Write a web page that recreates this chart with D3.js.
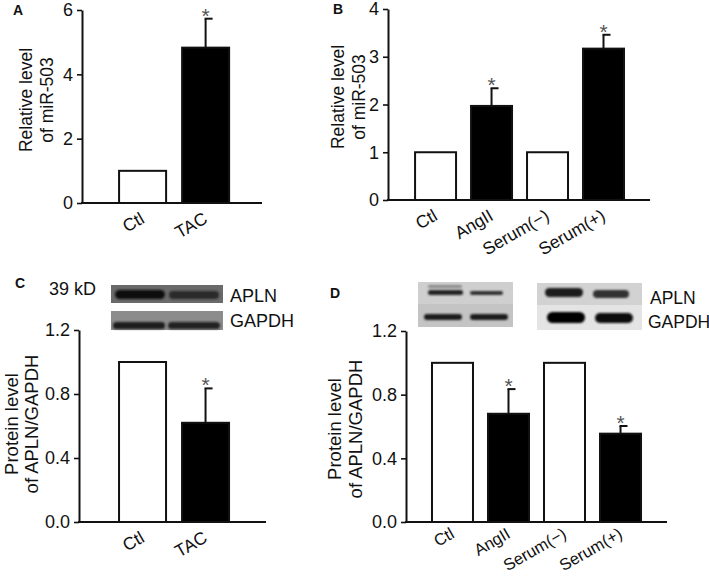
<!DOCTYPE html>
<html>
<head>
<meta charset="utf-8">
<script src="https://cdn.jsdelivr.net/npm/d3@7"></script>
<style>
  body { margin: 0; background: #fff; }
  text { font-family: Arial, "Liberation Sans", Helvetica, sans-serif; fill: #111; }
</style>
</head>
<body>
<script>
// values
var catsTwo = ["Ctl", "TAC"];
var catsFour = ["Ctl", "AngII", "Serum(\u2212)", "Serum(+)"];
var fillsTwo = ["white", "black"];
var fillsFour = ["white", "black", "white", "black"];

var miRTac = [1, 4.83];
var miRTacErr = [0, 0.9];
var miRCell = [1, 1.97, 1, 3.17];
var miRCellErr = [0, 0.37, 0, 0.29];
var aplnTac = [1, 0.62];
var aplnTacErr = [0, 0.215];
var aplnCell = [1, 0.68, 1, 0.555];
var aplnCellErr = [0, 0.155, 0, 0.048];
var sigTwo = [false, true];
var sigFour = [false, true, false, true];

var ticksMiRA = [0, 2, 4, 6];
var ticksMiRB = [0, 1, 2, 3, 4];
var ticksProt = [0, 0.4, 0.8, 1.2];

var width = 709, height = 578;

var svg = d3.select("body").append("svg")
    .attr("width", width)
    .attr("height", height);

var defs = svg.append("defs");
defs.append("filter").attr("id", "blur").attr("x", "-20%").attr("y", "-50%")
    .attr("width", "140%").attr("height", "200%")
    .append("feGaussianBlur").attr("stdDeviation", 1.3);

function panel(p) {
  var g = svg.append("g");

  var y = d3.scaleLinear().domain(p.domain).range([p.y0, p.yTop]);
  var x = d3.scaleBand().domain(p.cats).range([p.x0, p.x1])
      .paddingInner(p.pi).paddingOuter(p.po).align(p.align);

  var yAxis = g.append("g")
      .attr("transform", "translate(" + p.x0 + ",0)")
      .call(d3.axisLeft(y).tickValues(p.ticks).tickSize(5).tickSizeOuter(0)
        .tickPadding(4).tickFormat(p.fmt));
  yAxis.select(".domain").attr("stroke-width", 2).attr("stroke", "#111");
  yAxis.selectAll(".tick line").attr("stroke-width", 1.6).attr("stroke", "#111");
  yAxis.selectAll(".tick text").attr("font-size", 18).attr("fill", "#111")
      .style("font-family", "Arial, 'Liberation Sans', sans-serif");

  // bars
  g.selectAll(".bar").data(p.values).enter().append("rect")
      .attr("x", function(d, i) { return x(p.cats[i]); })
      .attr("y", function(d) { return y(d); })
      .attr("width", x.bandwidth())
      .attr("height", function(d) { return p.y0 - y(d); })
      .attr("fill", function(d, i) { return p.fills[i]; })
      .attr("stroke", "#111")
      .attr("stroke-width", 2);

  // error bars (upper half only)
  p.values.forEach(function(v, i) {
    var e = p.errs[i];
    if (!e) return;
    var cx = x(p.cats[i]) + x.bandwidth() / 2;
    g.append("line").attr("x1", cx).attr("x2", cx)
        .attr("y1", y(v)).attr("y2", y(v + e))
        .attr("stroke", "#111").attr("stroke-width", 2);
    g.append("line").attr("x1", cx - 1).attr("x2", cx + 7)
        .attr("y1", y(v + e)).attr("y2", y(v + e))
        .attr("stroke", "#111").attr("stroke-width", 2);
    if (p.sig[i]) {
      g.append("text").attr("x", cx).attr("y", y(v + e) + 4)
          .attr("text-anchor", "middle").attr("font-size", 21)
          .style("fill", "#555").text("*");
    }
  });

  // x axis line
  g.append("line").attr("x1", p.x0 - 1).attr("x2", p.x1)
      .attr("y1", p.y0).attr("y2", p.y0)
      .attr("stroke", "#111").attr("stroke-width", 2);

  // rotated category labels
  g.selectAll(".xl").data(p.cats).enter().append("text")
      .attr("transform", function(d) {
        var cx = x(d) + x.bandwidth() / 2;
        return "translate(" + (cx + 3) + "," + (p.y0 + p.labDy) + ") rotate(-30)";
      })
      .attr("text-anchor", "end")
      .attr("font-size", p.labSize)
      .text(function(d) { return d; });

  // y title, two lines
  p.ylab.forEach(function(t, k) {
    g.append("text")
        .attr("transform", "translate(" + p.ylabX[k] + "," + p.ylabY + ") rotate(-90)")
        .attr("text-anchor", "middle")
        .attr("font-size", p.ylabSize)
        .text(t);
  });

  g.append("text").attr("x", p.letterX).attr("y", p.letterY)
      .attr("font-size", 14).attr("font-weight", "bold").text(p.letter);
}

panel({
  letter: "A", letterX: 13, letterY: 15,
  cats: catsTwo, values: miRTac, errs: miRTacErr, fills: fillsTwo, sig: sigTwo,
  domain: [0, 6], ticks: ticksMiRA, fmt: d3.format("d"),
  x0: 82, x1: 262, y0: 203, yTop: 10, pi: 0.254, po: 0.555, align: 0.53,
  labDy: 19, labSize: 17.5,
  ylab: ["Relative level", "of miR-503"], ylabX: [32, 53], ylabY: 100, ylabSize: 17.5
});

panel({
  letter: "B", letterX: 333, letterY: 14,
  cats: catsFour, values: miRCell, errs: miRCellErr, fills: fillsFour, sig: sigFour,
  domain: [0, 4], ticks: ticksMiRB, fmt: d3.format("d"),
  x0: 388, x1: 650, y0: 200, yTop: 9, pi: 0.268, po: 0.474, align: 0.51,
  labDy: 19, labSize: 17.5,
  ylab: ["Relative level", "of miR-503"], ylabX: [344, 365], ylabY: 97, ylabSize: 17.5
});

panel({
  letter: "C", letterX: 15, letterY: 288,
  cats: catsTwo, values: aplnTac, errs: aplnTacErr, fills: fillsTwo, sig: sigTwo,
  domain: [0, 1.2], ticks: ticksProt, fmt: d3.format(".1f"),
  x0: 79, x1: 266, y0: 522, yTop: 330, pi: 0.254, po: 0.611, align: 0.52,
  labDy: 19, labSize: 17.5,
  ylab: ["Protein level", "of APLN/GAPDH"], ylabX: [18, 38], ylabY: 424, ylabSize: 18.5
});

panel({
  letter: "D", letterX: 330, letterY: 298,
  cats: catsFour, values: aplnCell, errs: aplnCellErr, fills: fillsFour, sig: sigFour,
  domain: [0, 1.2], ticks: ticksProt, fmt: d3.format(".1f"),
  x0: 406, x1: 667, y0: 522, yTop: 331, pi: 0.268, po: 0.464, align: 0.5,
  labDy: 15, labSize: 16.5,
  ylab: ["Protein level", "of APLN/GAPDH"], ylabX: [341, 362], ylabY: 429, ylabSize: 18.5
});

// western blot strips (decorative images)
function blot(x, y, w, h, bg, bands) {
  var g = svg.append("g");
  g.append("rect").attr("x", x).attr("y", y).attr("width", w).attr("height", h).attr("fill", bg);
  bands.forEach(function(b) {
    g.append("rect").attr("x", x + b[0]).attr("y", y + b[1]).attr("width", b[2]).attr("height", b[3])
        .attr("rx", b[3] / 2).attr("fill", b[4]).attr("filter", "url(#blur)");
  });
}

blot(111, 285, 112, 18, "#6a6a6a", [[4, 5, 50, 9, "#111"], [58, 6, 50, 8, "#2a2a2a"]]);
blot(111, 311, 112, 19, "#8c8c8c", [[2, 11, 52, 7, "#1a1a1a"], [57, 11, 52, 7, "#222"]]);

blot(418, 282, 95, 22, "#cfcfcf", [[10, 3, 34, 3, "#888"], [10, 8, 35, 5, "#222"], [52, 9, 33, 4, "#333"]]);
blot(418, 304, 95, 23, "#c4c4c4", [[6, 10, 38, 6, "#1a1a1a"], [52, 10, 38, 6, "#1e1e1e"]]);
blot(537, 283, 105, 22, "#d2d2d2", [[8, 5, 38, 9, "#1a1a1a"], [56, 7, 36, 8, "#333"]]);
blot(537, 305, 105, 25, "#e4e4e4", [[10, 7, 38, 11, "#050505"], [58, 8, 38, 10, "#0a0a0a"]]);

var blotLabels = [
  {t: "39 kD", x: 49, y: 295, s: 18},
  {t: "APLN", x: 230, y: 302, s: 18},
  {t: "GAPDH", x: 230, y: 327, s: 18},
  {t: "APLN", x: 650, y: 304, s: 17.5},
  {t: "GAPDH", x: 648, y: 328, s: 17.5}
];
svg.selectAll(".bl").data(blotLabels).enter().append("text")
    .attr("x", function(d) { return d.x; })
    .attr("y", function(d) { return d.y; })
    .attr("font-size", function(d) { return d.s; })
    .text(function(d) { return d.t; });
</script>
</body>
</html>
